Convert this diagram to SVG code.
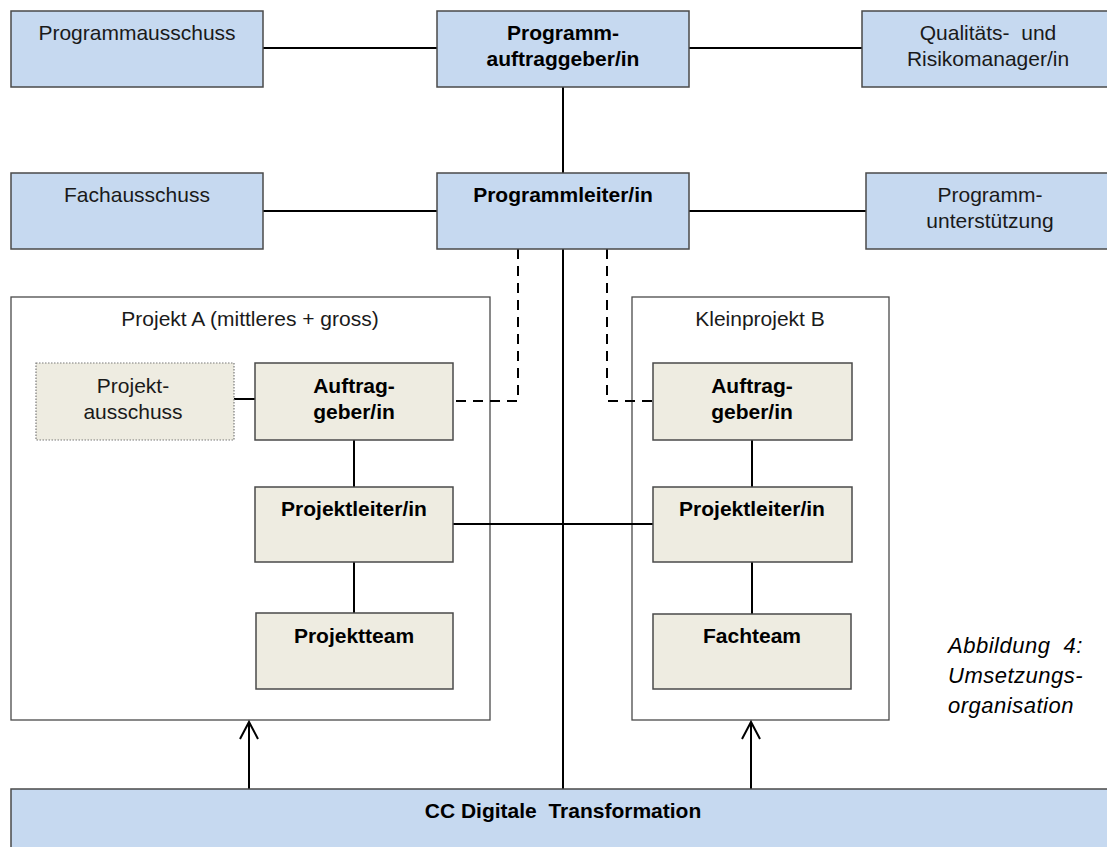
<svg xmlns="http://www.w3.org/2000/svg" width="1107" height="847" viewBox="0 0 1107 847">
<defs>
<style>
.blue{fill:#c6d9f0;stroke:#4a4a4a;stroke-width:1.5}
.tan{fill:#eeece1;stroke:#4a4a4a;stroke-width:1.5}
.tandot{fill:#eeece1;stroke:#7a7a7a;stroke-width:1.2;stroke-dasharray:1.5,1.5}
.cont{fill:#ffffff;stroke:#4a4a4a;stroke-width:1.3}
.t{font-family:"Liberation Sans",Arial,sans-serif;font-size:21px;fill:#1a1a1a;text-anchor:middle}
.b{font-weight:bold;fill:#000}
.cap{font-family:"Liberation Sans",Arial,sans-serif;font-size:22px;font-style:italic;fill:#000;letter-spacing:0.5px}
.ln{fill:none;stroke:#000;stroke-width:2}
.dash{fill:none;stroke:#000;stroke-width:2;stroke-dasharray:10,7}
</style>
<marker id="arr" markerWidth="24" markerHeight="24" refX="20" refY="12" orient="auto" markerUnits="userSpaceOnUse" viewBox="0 0 24 24">
<path d="M3,3 L20,12 L3,21" fill="none" stroke="#000" stroke-width="2"/>
</marker>
</defs>
<rect width="1107" height="847" fill="#ffffff"/>

<g id="projekt-a-container">
<rect class="cont" x="11" y="297" width="479" height="423"/>
<text class="t" x="250" y="326">Projekt A (mittleres + gross)</text>
</g>
<g id="kleinprojekt-b-container">
<rect class="cont" x="632" y="297" width="257" height="423"/>
<text class="t" x="760" y="326">Kleinprojekt  B</text>
</g>

<g id="connectors">
<line class="ln" x1="263" y1="48" x2="437" y2="48"/>
<line class="ln" x1="689" y1="48" x2="862" y2="48"/>
<line class="ln" x1="263" y1="211" x2="437" y2="211"/>
<line class="ln" x1="689" y1="211" x2="866" y2="211"/>
<line class="ln" x1="563" y1="87" x2="563" y2="173"/>
<line class="ln" x1="563" y1="249" x2="563" y2="789"/>
<polyline class="dash" points="518,249 518,401 453,401"/>
<polyline class="dash" points="607,249 607,401 653,401"/>
<line class="ln" x1="234" y1="399" x2="255" y2="399"/>
<line class="ln" x1="354" y1="440" x2="354" y2="487"/>
<line class="ln" x1="354" y1="562" x2="354" y2="613"/>
<line class="ln" x1="752" y1="440" x2="752" y2="487"/>
<line class="ln" x1="752" y1="562" x2="752" y2="614"/>
<line class="ln" x1="453" y1="524" x2="653" y2="524"/>
<line class="ln" x1="249" y1="789" x2="249" y2="722" marker-end="url(#arr)"/>
<line class="ln" x1="751" y1="789" x2="751" y2="722" marker-end="url(#arr)"/>
</g>

<g id="programmausschuss">
<rect class="blue" x="11" y="11" width="252" height="76"/>
<text class="t" x="137" y="40">Programmausschuss</text>
</g>
<g id="programmauftraggeber">
<rect class="blue" x="437" y="11" width="252" height="76"/>
<text class="t b" x="563" y="40">Programm-</text>
<text class="t b" x="563" y="66">auftraggeber/in</text>
</g>
<g id="qualitaetsmanager">
<rect class="blue" x="862" y="11" width="260" height="76"/>
<text class="t" x="988" y="40" xml:space="preserve">Qualitäts-  und</text>
<text class="t" x="988" y="66">Risikomanager/in</text>
</g>
<g id="fachausschuss">
<rect class="blue" x="11" y="173" width="252" height="76"/>
<text class="t" x="137" y="202">Fachausschuss</text>
</g>
<g id="programmleiter">
<rect class="blue" x="437" y="173" width="252" height="76"/>
<text class="t b" x="563" y="202">Programmleiter/in</text>
</g>
<g id="programmunterstuetzung">
<rect class="blue" x="866" y="173" width="256" height="76"/>
<text class="t" x="990" y="202">Programm-</text>
<text class="t" x="990" y="228">unterstützung</text>
</g>

<g id="projektausschuss">
<rect class="tandot" x="36" y="363" width="198" height="77"/>
<text class="t" x="133" y="393">Projekt-</text>
<text class="t" x="133" y="419">ausschuss</text>
</g>
<g id="auftraggeber-a">
<rect class="tan" x="255" y="363" width="198" height="77"/>
<text class="t b" x="354" y="393">Auftrag-</text>
<text class="t b" x="354" y="419">geber/in</text>
</g>
<g id="projektleiter-a">
<rect class="tan" x="255" y="487" width="198" height="75"/>
<text class="t b" x="354" y="516">Projektleiter/in</text>
</g>
<g id="projektteam">
<rect class="tan" x="256" y="613" width="197" height="76"/>
<text class="t b" x="354" y="643">Projektteam</text>
</g>

<g id="auftraggeber-b">
<rect class="tan" x="653" y="363" width="199" height="77"/>
<text class="t b" x="752" y="393">Auftrag-</text>
<text class="t b" x="752" y="419">geber/in</text>
</g>
<g id="projektleiter-b">
<rect class="tan" x="653" y="487" width="199" height="75"/>
<text class="t b" x="752" y="516">Projektleiter/in</text>
</g>
<g id="fachteam">
<rect class="tan" x="653" y="614" width="198" height="75"/>
<text class="t b" x="752" y="643">Fachteam</text>
</g>

<g id="cc-digitale-transformation">
<rect class="blue" x="11" y="789" width="1110" height="70"/>
<text class="t b" x="563" y="818" xml:space="preserve">CC Digitale  Transformation</text>
</g>

<g id="caption">
<text class="cap" x="948" y="653" xml:space="preserve">Abbildung  4:</text>
<text class="cap" x="948" y="683">Umsetzungs-</text>
<text class="cap" x="948" y="713">organisation</text>
</g>
</svg>
